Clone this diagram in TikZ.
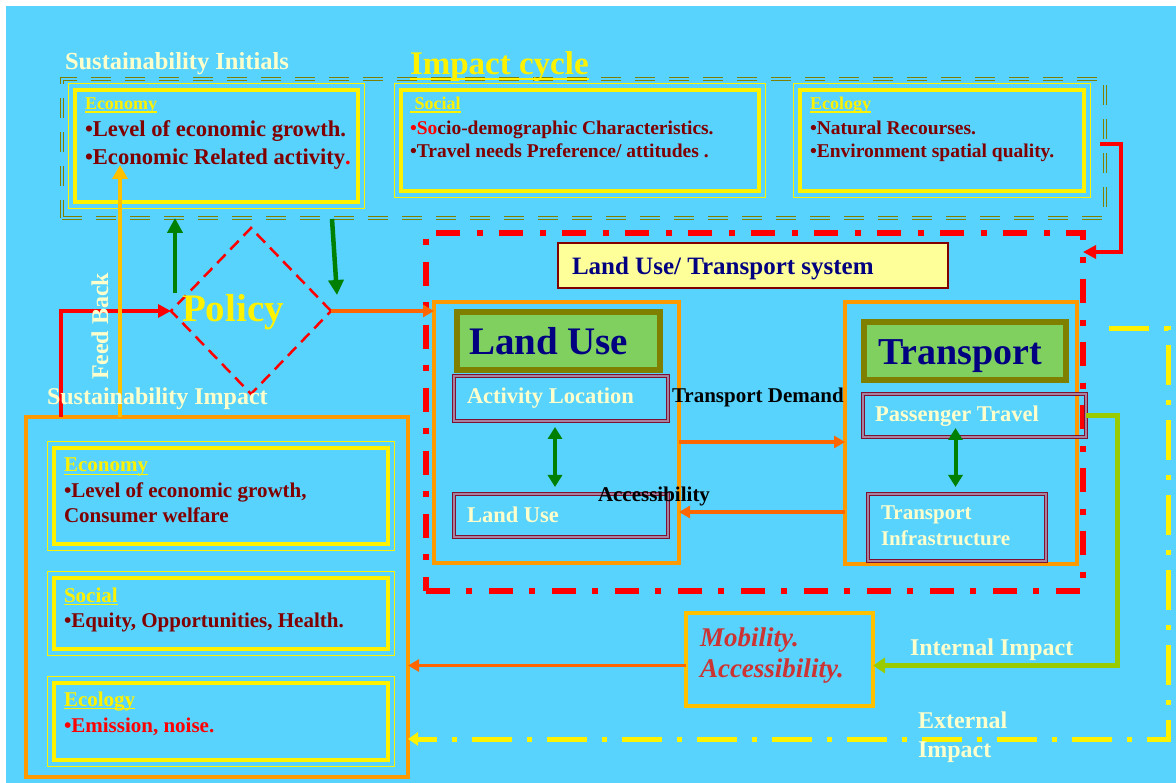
\documentclass[tikz,border=0pt]{standalone}
\usepackage{fontspec}
\setmainfont{Liberation Serif}
\usetikzlibrary{arrows.meta,shapes.geometric,calc}

\definecolor{bgblue}{RGB}{88,211,253}
\definecolor{cream}{RGB}{255,255,204}
\definecolor{dmaroon}{RGB}{128,0,0}
\definecolor{navyc}{RGB}{0,0,128}
\definecolor{olivec}{RGB}{128,128,0}
\definecolor{leaf}{RGB}{128,208,96}
\definecolor{orbox}{RGB}{255,153,0}
\definecolor{orarrow}{RGB}{255,102,0}
\definecolor{dgreen}{RGB}{0,128,0}
\definecolor{ygreen}{RGB}{153,204,0}
\definecolor{gold}{RGB}{255,192,0}
\definecolor{mobred}{RGB}{204,51,51}
\definecolor{ltyellow}{RGB}{255,255,153}
\definecolor{frameline}{RGB}{128,16,48}
\definecolor{framegap}{RGB}{165,130,160}

\newcommand{\fsz}[1]{\fontsize{#1}{#1}\selectfont}
\newcommand{\uline}[1]{\setbox0=\hbox{#1}\rlap{\vrule height -0.08em depth 0.15em width \wd0}\box0}
% yellow frame: thick band plus a thin outer line
\newcommand{\yframe}[5]{%
  \node[yband, minimum width=#4pt, minimum height=#5pt] (#1) at (#2,#3) {};
  \draw[yellow, line width=1pt] ([xshift=-6.5pt,yshift=6.5pt]#1.north west) rectangle ([xshift=6.5pt,yshift=-6.5pt]#1.south east);}

\begin{document}
\begin{tikzpicture}[x=1pt,y=-1pt,
  tx/.style={inner sep=0pt, outer sep=0pt, anchor=base west, font=\bfseries\fsz{#1}},
  box/.style={rectangle, inner sep=0pt, outer sep=0pt, anchor=north west},
  yband/.style={box, draw=yellow, line width=4.5pt},
  olivedash/.style={box, draw=olivec, double=bgblue, double distance=1.8pt, line width=1.3pt, dash pattern=on 20pt off 14pt},
  reddashdot/.style={box, draw=red, line width=6pt, dash pattern=on 24pt off 16pt on 6pt off 17pt},
  orframe/.style={box, draw=orbox, line width=3.5pt},
  titlebox/.style={box, draw=olivec, fill=leaf, line width=6pt},
  dbox/.style={box, draw=frameline, double=framegap, double distance=1.6pt, line width=1.1pt},
  greenarrow/.style={dgreen, line width=4.5pt, -{Triangle[length=15pt,width=15pt]}},
  greendbl/.style={dgreen, line width=4pt, {Triangle[length=12pt,width=14pt]}-{Triangle[length=12pt,width=14pt]}},
  orarr/.style={orarrow, line width=3.5pt, -{Triangle[length=11pt,width=12pt]}},
  redarr/.style={red, line width=4pt, -{Triangle[length=13pt,width=13pt]}},
  goldarr/.style={gold, line width=4pt, -{Triangle[length=14pt,width=15pt]}},
  ygarr/.style={ygreen, line width=5pt, -{Triangle[length=12pt,width=15pt]}},
  yelarr/.style={yellow, line width=5pt, dash pattern=on 40pt off 15pt on 5pt off 15pt, -{Triangle[length=10pt,width=13pt]}}
]
\useasboundingbox (0,0) rectangle (1176,783);
\fill[white] (0,0) rectangle (1176,783);
\fill[bgblue] (6,6) rectangle (1176,783);

% ---- impact cycle: sustainability initials ----
\node[olivedash, minimum width=1043pt, minimum height=139pt] (icbox) at (62,79) {};
\yframe{teco}{75}{90}{283}{112}
\yframe{tsoc}{401}{90}{358}{101}
\yframe{tecl}{800}{90}{284}{101}

% ---- land use / transport system ----
\node[reddashdot, minimum width=657pt, minimum height=358pt] (lts) at (426,233) {};
\node[box, draw=dmaroon, fill=ltyellow, line width=2pt, minimum width=390pt, minimum height=45pt] (ltslabel) at (558,243) {};

\node[orframe, minimum width=245pt, minimum height=261pt] (lubox) at (434,302) {};
\node[titlebox, minimum width=203pt, minimum height=58pt] (lutitle) at (457,312) {};
\node[dbox, minimum width=214pt, minimum height=45pt] (actloc) at (454,376) {};
\node[dbox, minimum width=214pt, minimum height=43pt] (luse) at (454,494) {};

\node[orframe, minimum width=232pt, minimum height=262pt] (trbox) at (845,302) {};
\node[titlebox, minimum width=202pt, minimum height=58pt] (trtitle) at (864,322) {};
\node[dbox, minimum width=223pt, minimum height=43pt] (ptravel) at (863,394) {};
\node[dbox, minimum width=178pt, minimum height=67pt] (tinfra) at (868,494) {};

% ---- policy ----
\node[diamond, draw=red, line width=2.5pt, dash pattern=on 12pt off 7pt, minimum width=160pt, minimum height=166pt, inner sep=0pt, outer sep=0pt] (policy) at (251,311) {};

% ---- sustainability impact ----
\node[orframe, line width=4pt, minimum width=382pt, minimum height=360pt] (sibox) at (26,417) {};
\yframe{beco}{54}{448}{334}{96}
\yframe{bsoc}{54}{578}{334}{71}
\yframe{becl}{54}{683}{334}{77}

% ---- mobility ----
\node[box, draw=gold, line width=3.5pt, minimum width=187pt, minimum height=93pt] (mob) at (686,613) {};

% ---- connectors ----
\coordinate (fbtip) at (120,165);
\coordinate (gup) at (175,293);
\coordinate (gdn1) at (332,219);
\coordinate (gdn2) at (337,295);
\coordinate (ystart) at (1109,329);

\draw[redarr] ([xshift=35pt]sibox.north west) |- (policy.west);
\draw[goldarr] ([xshift=94pt]sibox.north west) -- (fbtip);
\draw[greenarrow] (gup) -- (gup |- icbox.south);
\draw[greenarrow] (gdn1) -- (gdn2);
\draw[orarr] (policy.east) -- (policy.east -| lubox.west);
\draw[redarr] ([xshift=-5pt,yshift=4pt]icbox.east) -- ++(21,0) |- ([yshift=160pt]lts.east);
\draw[orarr] ([yshift=-9.5pt]lubox.east) -- ([yshift=-9.5pt]lubox.east -| trbox.west);
\draw[orarr] ([yshift=-79pt]trbox.west) -- ([yshift=-79pt]trbox.west -| lubox.east);
\draw[greendbl] ([xshift=-6pt,yshift=-6pt]actloc.south) -- ([xshift=-6pt,yshift=7pt]luse.north);
\draw[greendbl] ([xshift=-19pt,yshift=9pt]ptravel.south) -- ([xshift=-1.5pt,yshift=7pt]tinfra.north);
\draw[ygarr] (ptravel.east) -- ++(31,0) |- ([yshift=-6pt]mob.east);
\draw[orarr] ([yshift=-6pt]mob.west) -- ([yshift=-6pt]mob.west -| sibox.east);
\draw[yelarr] (ystart) -- ++(59,0) |- ([yshift=-142pt]sibox.east);

% ---- texts ----
\node[tx=24.5, text=cream] (sinit) at (65,70) {Sustainability Initials};
\node[tx=33, text=yellow] (icyc) at (410,75) {\uline{Impact cycle}};

\node[tx=18, text=yellow] (h1) at (85,110) {\uline{Economy}};
\node[tx=22.6, text=dmaroon] (e1) at (85,137) {•Level of economic growth.};
\node[tx=22.6, text=dmaroon] (e2) at (85,165) {•Economic Related activity\textcolor{red}{.}};

\node[tx=18, text=yellow] (h2) at (410,110) {\uline{\ Social}};
\node[tx=19.5, text=dmaroon] (s1) at (410,135) {\textcolor{red}{•So}cio-demographic Characteristics.};
\node[tx=19.5, text=dmaroon] (s2) at (410,158) {•Travel needs Preference/ attitudes .};

\node[tx=18, text=yellow] (h3) at (810,110) {\uline{Ecology}};
\node[tx=19.5, text=dmaroon] (g1) at (810,135) {•Natural Recourses.};
\node[tx=19.5, text=dmaroon] (g2) at (810,158) {•Environment spatial quality.};

\node[tx=39, text=yellow] (poltxt) at (182,322) {Policy};
\node[tx=24, text=cream, rotate=90] (fb) at (108,380) {Feed Back};
\node[tx=24, text=cream] (simp) at (47,405) {Sustainability Impact};

\node[tx=21, text=yellow] (bh1) at (64,472) {\uline{Economy}};
\node[tx=21, text=dmaroon] (be1) at (64,497) {•Level of economic growth,};
\node[tx=21, text=dmaroon] (be2) at (64,522) {Consumer welfare};
\node[tx=21, text=yellow] (bh2) at (64,602) {\uline{Social}};
\node[tx=21, text=dmaroon] (bs1) at (64,627) {•Equity, Opportunities, Health.};
\node[tx=21, text=yellow] (bh3) at (64,706) {\uline{Ecology}};
\node[tx=21, text=red] (bg1) at (64,732) {•Emission, noise.};

\node[tx=25, text=navyc] (ltstxt) at (572,275) {Land Use/ Transport system};
\node[tx=39, text=navyc] (lutxt) at (469,355) {Land Use};
\node[tx=22.5, text=cream] (altxt) at (467,404) {Activity Location};
\node[tx=22.5, text=cream] (lu2txt) at (467,522) {Land Use};
\node[tx=21, text=black] (tdtxt) at (672,403) {Transport Demand};
\node[tx=21, text=black] (acctxt) at (598,501) {Accessibility};

\node[tx=38, text=navyc] (trtxt) at (878,365) {Transport};
\node[tx=22.5, text=cream] (pttxt) at (875,422) {Passenger Travel};
\node[tx=21, text=cream] (ti1) at (881,519) {Transport};
\node[tx=21, text=cream] (ti2) at (881,545) {Infrastructure};

\node[tx=27, text=mobred, font=\bfseries\itshape\fsz{27}] (mob1) at (700,646) {Mobility.};
\node[tx=27, text=mobred, font=\bfseries\itshape\fsz{27}] (mob2) at (700,677) {Accessibility.};

\node[tx=24, text=cream] (iitxt) at (910,655) {Internal Impact};
\node[tx=24, text=cream] (ex1) at (918,728) {External};
\node[tx=24, text=cream] (ex2) at (918,757) {Impact};
\end{tikzpicture}
\end{document}
